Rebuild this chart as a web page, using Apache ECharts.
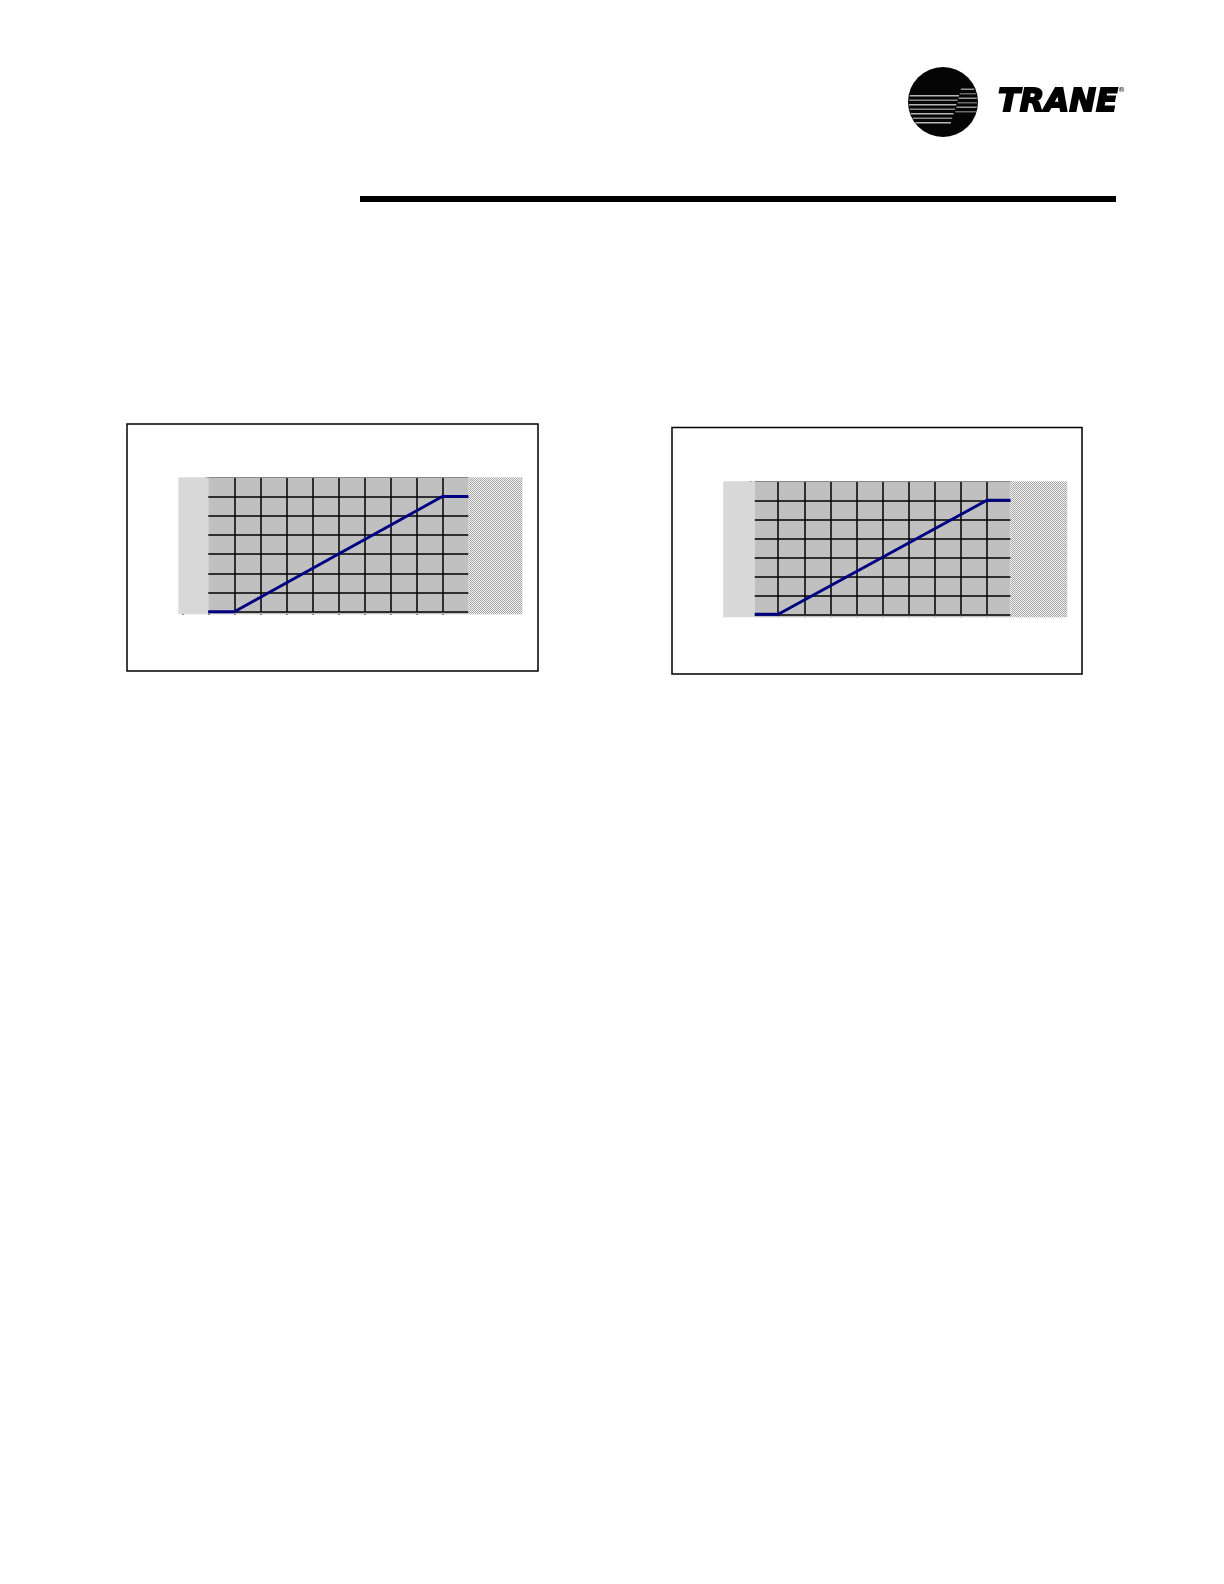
<!DOCTYPE html>
<html>
<head>
<meta charset="utf-8">
<script src="https://cdn.jsdelivr.net/npm/echarts@6/dist/echarts.min.js"></script>
<style>
html,body{margin:0;padding:0;background:#fff;}
#c{width:1224px;height:1584px;}
</style>
</head>
<body>
<div id="c"></div>
<script>
// ---- data ----
const chart1X = [0, 1, 9, 10];
const chart1Y = [0, 0, 6, 6];
const chart2X = [0.1, 1, 9, 9.9];
const chart2Y = [0, 0, 6, 6];
const vGrid = [1, 2, 3, 4, 5, 6, 7, 8, 9];
const hGrid = [0, 1, 2, 3, 4, 5, 6];
const yTop = 7;
const xTicks1 = [-1, 0, 1, 2, 3, 4, 5, 6, 7, 8, 9];
const xTicks2 = [1, 2, 3, 4, 5, 6, 7, 8, 9];
const yTicks = [0, 1, 2, 3, 4, 5, 6, 7];
const plot1 = [0, 10];
const plot2 = [0.1, 9.9];
const xRange1 = [-1.15, 12.08];
const xRange2 = [-1.11, 12.08];
const yRange1 = [-0.13, 7];
const yRange2 = [-0.16, 7];

// hatch pattern
const pc = document.createElement('canvas');
pc.width = 2; pc.height = 2;
const pctx = pc.getContext('2d');
pctx.fillStyle = '#f2f2f2'; pctx.fillRect(0, 0, 2, 2);
pctx.fillStyle = '#a6a6a6'; pctx.fillRect(0, 0, 1, 1); pctx.fillRect(1, 1, 1, 1);
const hatch = { image: pc, repeat: 'repeat' };

function zip(xs, ys) { return xs.map((x, i) => [x, ys[i]]); }

function buildSeries(idx, xs, ys, plot, xr, yr) {
  const areas = [
    [{ coord: [xr[0], yr[0]], itemStyle: { color: '#d8d8d8' } }, { coord: [plot[0], yTop] }],
    [{ coord: [plot[0], yr[0]], itemStyle: { color: '#c0c0c0' } }, { coord: [plot[1], yTop] }],
    [{ coord: [plot[1], yr[0]], itemStyle: { color: hatch } }, { coord: [xr[1], yTop] }]
  ];
  const lines = [];
  vGrid.forEach(v => lines.push([{ coord: [v, 0] }, { coord: [v, yTop] }]));
  hGrid.forEach(h => lines.push([{ coord: [plot[0], h] }, { coord: [plot[1], h] }]));
  lines.push([{ coord: [plot[0], yTop], lineStyle: { color: '#8a8a8a', width: 1.2 } }, { coord: [plot[1], yTop] }]);
  const d = zip(xs, ys);
  return [
    { type: 'line', xAxisIndex: idx, yAxisIndex: idx, data: d, showSymbol: false, silent: true, z: 1,
      lineStyle: { width: 0, opacity: 0 },
      markArea: { silent: true, data: areas, label: { show: false } } },
    { type: 'line', xAxisIndex: idx, yAxisIndex: idx, data: d, showSymbol: false, silent: true, z: 2,
      lineStyle: { width: 0, opacity: 0 },
      markLine: { silent: true, symbol: ['none', 'none'], label: { show: false },
        lineStyle: { color: '#000', width: 1.5, type: 'solid' }, data: lines } },
    { type: 'line', xAxisIndex: idx, yAxisIndex: idx, data: d, showSymbol: false, silent: true, z: 5,
      lineStyle: { color: '#000080', width: 3 } }
  ];
}

function xAxis(idx, xr, ticks) {
  return { type: 'value', gridIndex: idx, min: xr[0], max: xr[1],
    axisLine: { show: false }, splitLine: { show: false },
    axisLabel: { show: false },
    axisTick: { show: true, inside: false, length: 3, customValues: ticks, lineStyle: { color: '#000', width: 1.5 } } };
}
function yAxis(idx, yr) {
  return { type: 'value', gridIndex: idx, min: yr[0], max: yr[1],
    axisLine: { show: false }, splitLine: { show: false },
    axisLabel: { show: false },
    axisTick: { show: true, inside: false, length: 3, customValues: yTicks, lineStyle: { color: '#000', width: 1.5 } } };
}

// logo stripes
const cx = 943, cy = 102, r = 35;
const logo = [{ type: 'circle', shape: { cx: cx, cy: cy, r: r }, style: { fill: '#050505' }, z: 10 }];
[95, 99.5, 104, 108.5, 113, 117.5, 122].forEach((y, i) => {
  const hw = Math.sqrt(Math.max(0, r * r - (y - cy) * (y - cy))) - 1;
  const x0 = cx - hw;
  const x1 = 959 - (y - 95) * 0.3;
  logo.push({ type: 'rect', shape: { x: x0, y: y, width: x1 - x0, height: 1.6 }, style: { fill: i % 2 ? '#8a8a8a' : '#b8b8b8' }, z: 11 });
});
[88.5, 93, 97.5, 102, 106.5, 111].forEach((y, i) => {
  const hw = Math.sqrt(Math.max(0, r * r - (y - cy) * (y - cy))) - 1;
  const x0 = 961 - (y - 88) * 0.25;
  const x1 = cx + hw;
  logo.push({ type: 'rect', shape: { x: x0, y: y, width: x1 - x0, height: 1.5 }, style: { fill: i % 2 ? '#6a6a6a' : '#999999' }, z: 11 });
});

const chart = echarts.init(document.getElementById('c'), null, { renderer: 'canvas' });
chart.setOption({
  animation: false,
  backgroundColor: '#ffffff',
  grid: [
    { left: 178.4, top: 477.3, width: 344, height: 136.9 },
    { left: 723.2, top: 481.3, width: 344.1, height: 136 }
  ],
  xAxis: [xAxis(0, xRange1, xTicks1), xAxis(1, xRange2, xTicks2)],
  yAxis: [yAxis(0, yRange1), yAxis(1, yRange2)],
  series: buildSeries(0, chart1X, chart1Y, plot1, xRange1, yRange1)
    .concat(buildSeries(1, chart2X, chart2Y, plot2, xRange2, yRange2)),
  graphic: logo.concat([
    { type: 'text', x: 998, y: 87, z: 12,
      style: { text: 'TRANE', font: 'italic bold 32px "DejaVu Sans"', fill: '#000', stroke: '#000', lineWidth: 1.8, textVerticalAlign: 'top' } },
    { type: 'text', x: 1118, y: 87, z: 12,
      style: { text: '®', font: '7px "DejaVu Sans"', fill: '#000' } },
    { type: 'rect', shape: { x: 360, y: 196, width: 756, height: 6 }, style: { fill: '#000' } },
    { type: 'rect', shape: { x: 127, y: 424, width: 411, height: 247 }, style: { fill: 'none', stroke: '#000', lineWidth: 1.5 } },
    { type: 'rect', shape: { x: 672, y: 427.5, width: 410, height: 246.5 }, style: { fill: 'none', stroke: '#000', lineWidth: 1.5 } }
  ])
});
</script>
</body>
</html>
